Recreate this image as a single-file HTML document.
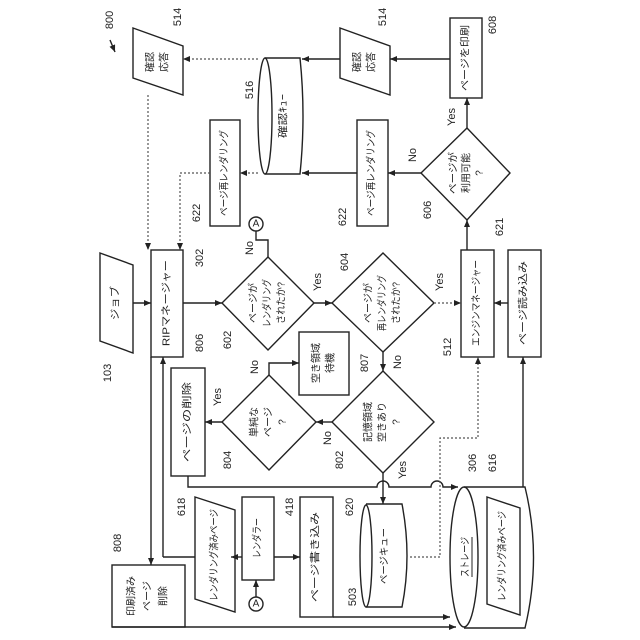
<!DOCTYPE html>
<html><head><meta charset="utf-8"><style>
html,body{margin:0;padding:0;background:#fff;}
svg{display:block;}
text{font-family:"Liberation Sans","Noto Sans CJK JP",sans-serif;fill:#222;text-anchor:middle;dominant-baseline:central;}
</style></head><body>
<svg width="640" height="640" viewBox="0 0 640 640" xmlns="http://www.w3.org/2000/svg">
<defs>
<marker id="ar" markerWidth="8" markerHeight="8" refX="7" refY="4" orient="auto" markerUnits="userSpaceOnUse">
<path d="M0,1 L7,4 L0,7 z" fill="#222"/></marker>
</defs>
<g stroke="#222" stroke-width="1.4" fill="none">
<polygon points="133,28 183,46 183,95 133,78"/>
<polygon points="340,28 390,46 390,95 340,78"/>
<rect x="450" y="18" width="32" height="80"/>
<path d="M265,58 L300,58 Q306,116 300,174 L265,174"/>
<ellipse cx="265" cy="116" rx="7" ry="58"/>
<rect x="210" y="120" width="30" height="106"/>
<rect x="357" y="120" width="31" height="106"/>
<polygon points="467,128 510,173 467,220 421,173"/>
<polygon points="100,253 133,265 133,353 100,341"/>
<rect x="151" y="250" width="32" height="107"/>
<polygon points="268,257 314,303 268,350 222,303"/>
<polygon points="383,253 434,303 383,352 332,303"/>
<rect x="461" y="250" width="33" height="107"/>
<rect x="508" y="250" width="33" height="107"/>
<rect x="299" y="332" width="50" height="63"/>
<polygon points="269,375 316,422 269,470 222,422"/>
<rect x="171" y="368" width="34" height="108"/>
<polygon points="383,371 434,422 383,473 332,422"/>
<circle cx="256" cy="224" r="7"/>
<circle cx="256" cy="604" r="7"/>
<rect x="112" y="565" width="73" height="62"/>
<polygon points="195,497 235,510 235,612 195,599"/>
<rect x="242" y="497" width="32" height="83"/>
<rect x="300" y="497" width="33" height="120"/>
<path d="M366,504 L402,504 Q412,556 402,607 L366,607"/>
<ellipse cx="366" cy="556" rx="6" ry="51"/>
<path d="M464,487 L525,487 Q542,557 525,628 L464,628"/>
<ellipse cx="464" cy="557" rx="14" ry="70"/>
<polygon points="487,497 520,508 520,615 487,604"/>
<path d="M450,59 L390,59" marker-end="url(#ar)"/>
<path d="M340,59 L302,59" marker-end="url(#ar)"/>
<path d="M421,173 L388,173" marker-end="url(#ar)"/>
<path d="M357,173 L302,173" marker-end="url(#ar)"/>
<path d="M467,128 L467,98" marker-end="url(#ar)"/>
<path d="M467,250 L467,220" marker-end="url(#ar)"/>
<path d="M133,303 L151,303" marker-end="url(#ar)"/>
<path d="M183,303 L222,303" marker-end="url(#ar)"/>
<path d="M314,303 L332,303" marker-end="url(#ar)"/>
<path d="M508,303 L494,303" marker-end="url(#ar)"/>
<path d="M268,257 L268,240 L256,240 L256,231" />
<path d="M383,352 L383,371" marker-end="url(#ar)"/>
<path d="M332,422 L316,422" marker-end="url(#ar)"/>
<path d="M222,422 L205,422" marker-end="url(#ar)"/>
<path d="M269,375 L269,363 L299,363" marker-end="url(#ar)"/>
<path d="M383,473 L383,504" marker-end="url(#ar)"/>
<path d="M151,357 L151,565" marker-end="url(#ar)"/>
<path d="M163,557 L163,357" marker-end="url(#ar)"/>
<path d="M163,557 L195,557"/>
<path d="M242,557 L231,557" marker-end="url(#ar)"/>
<path d="M274,557 L300,557" marker-end="url(#ar)"/>
<path d="M256,597 L256,580" marker-end="url(#ar)"/>
<path d="M188,476 L188,487 L377,487 A6,6 0 0 1 389,487 L431,487 A6,6 0 0 1 443,487 L458,487" marker-end="url(#ar)"/>
<path d="M523,487 L523,357" marker-end="url(#ar)"/>
<path d="M333,617 L450,617" marker-end="url(#ar)"/>
<path d="M112,627 L456,627" marker-end="url(#ar)"/>
</g>
<g stroke="#555" stroke-width="1.2" fill="none" stroke-dasharray="2,2">
<path d="M258,59 L183,59" marker-end="url(#ar)"/>
<path d="M148,95 L148,250" marker-end="url(#ar)"/>
<path d="M258,173 L240,173" marker-end="url(#ar)"/>
<path d="M210,173 L180,173 L180,250" marker-end="url(#ar)"/>
<path d="M434,303 L461,303" marker-end="url(#ar)"/>
<path d="M410,557 L440,557 L440,438 L478,438 L478,357" marker-end="url(#ar)"/>
</g>
<g font-size="10">
<g transform="translate(158,62) rotate(-90)"><text y="-7">確認</text><text y="7">応答</text></g>
<g transform="translate(365,62) rotate(-90)"><text y="-7">確認</text><text y="7">応答</text></g>
<text transform="translate(466,58) rotate(-90)" textLength="66" lengthAdjust="spacingAndGlyphs">ページを印刷</text>
<text transform="translate(284,116) rotate(-90)" textLength="44" lengthAdjust="spacingAndGlyphs">確認ｷｭｰ</text>
<text transform="translate(225,173) rotate(-90)" textLength="86" lengthAdjust="spacingAndGlyphs">ページ再レンダリング</text>
<text transform="translate(372,173) rotate(-90)" textLength="86" lengthAdjust="spacingAndGlyphs">ページ再レンダリング</text>
<g transform="translate(467,173) rotate(-90)"><text y="-13" textLength="42" lengthAdjust="spacingAndGlyphs">ページが</text><text y="0">利用可能</text><text y="13">?</text></g>
<text transform="translate(116,303) rotate(-90)" textLength="34" lengthAdjust="spacingAndGlyphs">ジョブ</text>
<text transform="translate(167,303) rotate(-90)" textLength="86" lengthAdjust="spacingAndGlyphs">RIPマネージャー</text>
<g transform="translate(268,303) rotate(-90)"><text y="-14" textLength="40" lengthAdjust="spacingAndGlyphs">ページが</text><text y="0" textLength="48" lengthAdjust="spacingAndGlyphs">レンダリング</text><text y="14" textLength="42" lengthAdjust="spacingAndGlyphs">されたか?</text></g>
<g transform="translate(383,303) rotate(-90)"><text y="-14" textLength="40" lengthAdjust="spacingAndGlyphs">ページが</text><text y="0" textLength="56" lengthAdjust="spacingAndGlyphs">再レンダリング</text><text y="14" textLength="42" lengthAdjust="spacingAndGlyphs">されたか?</text></g>
<text transform="translate(477,303) rotate(-90)" textLength="86" lengthAdjust="spacingAndGlyphs">エンジンマネージャー</text>
<text transform="translate(524,303) rotate(-90)" textLength="84" lengthAdjust="spacingAndGlyphs">ページ読み込み</text>
<g transform="translate(324,363) rotate(-90)"><text y="-7">空き領域</text><text y="7">待機</text></g>
<g transform="translate(269,422) rotate(-90)"><text y="-14">単純な</text><text y="0" textLength="30" lengthAdjust="spacingAndGlyphs">ページ</text><text y="14">?</text></g>
<text transform="translate(188,422) rotate(-90)" textLength="80" lengthAdjust="spacingAndGlyphs">ページの削除</text>
<g transform="translate(383,422) rotate(-90)"><text y="-14">記憶領域</text><text y="0">空きあり</text><text y="14">?</text></g>
<g transform="translate(148,596) rotate(-90)"><text y="-16">印刷済み</text><text y="0" textLength="30" lengthAdjust="spacingAndGlyphs">ページ</text><text y="16">削除</text></g>
<text transform="translate(215,555) rotate(-90)" textLength="92" lengthAdjust="spacingAndGlyphs">レンダリング済みページ</text>
<text transform="translate(258,538) rotate(-90)" textLength="40" lengthAdjust="spacingAndGlyphs">レンダラー</text>
<text transform="translate(316,557) rotate(-90)" textLength="90" lengthAdjust="spacingAndGlyphs">ページ書き込み</text>
<text transform="translate(385,556) rotate(-90)" textLength="56" lengthAdjust="spacingAndGlyphs">ページキュー</text>
<text transform="translate(466,557) rotate(-90)" textLength="40" lengthAdjust="spacingAndGlyphs" text-decoration="underline">ストレージ</text>
<text transform="translate(503,556) rotate(-90)" textLength="90" lengthAdjust="spacingAndGlyphs">レンダリング済みページ</text>
<text x="256" y="224" font-size="10">A</text>
<text x="256" y="604" font-size="10">A</text>
</g>
<g font-size="11">
<text transform="translate(178,17) rotate(-90)">514</text>
<text transform="translate(383,17) rotate(-90)">514</text>
<text transform="translate(493,25) rotate(-90)">608</text>
<text transform="translate(250,90) rotate(-90)">516</text>
<text transform="translate(197,213) rotate(-90)">622</text>
<text transform="translate(343,217) rotate(-90)">622</text>
<text transform="translate(428,210) rotate(-90)">606</text>
<text transform="translate(500,227) rotate(-90)">621</text>
<text transform="translate(200,258) rotate(-90)">302</text>
<text transform="translate(108,373) rotate(-90)">103</text>
<text transform="translate(228,340) rotate(-90)">602</text>
<text transform="translate(345,262) rotate(-90)">604</text>
<text transform="translate(448,347) rotate(-90)">512</text>
<text transform="translate(200,343) rotate(-90)">806</text>
<text transform="translate(365,363) rotate(-90)">807</text>
<text transform="translate(228,460) rotate(-90)">804</text>
<text transform="translate(340,460) rotate(-90)">802</text>
<text transform="translate(473,463) rotate(-90)">306</text>
<text transform="translate(493,463) rotate(-90)">616</text>
<text transform="translate(118,543) rotate(-90)">808</text>
<text transform="translate(182,507) rotate(-90)">618</text>
<text transform="translate(290,507) rotate(-90)">418</text>
<text transform="translate(350,507) rotate(-90)">620</text>
<text transform="translate(353,597) rotate(-90)">503</text>
<text transform="translate(110,20) rotate(-90)">800</text>
<text transform="translate(413,155) rotate(-90)">No</text>
<text transform="translate(452,117) rotate(-90)">Yes</text>
<text transform="translate(250,248) rotate(-90)">No</text>
<text transform="translate(318,282) rotate(-90)">Yes</text>
<text transform="translate(440,282) rotate(-90)">Yes</text>
<text transform="translate(398,362) rotate(-90)">No</text>
<text transform="translate(255,367) rotate(-90)">No</text>
<text transform="translate(218,397) rotate(-90)">Yes</text>
<text transform="translate(328,438) rotate(-90)">No</text>
<text transform="translate(403,470) rotate(-90)">Yes</text>
</g>
<path d="M110,40 L115,52" stroke="#222" stroke-width="1.4" fill="none" marker-end="url(#ar)"/>
</svg>
</body></html>
